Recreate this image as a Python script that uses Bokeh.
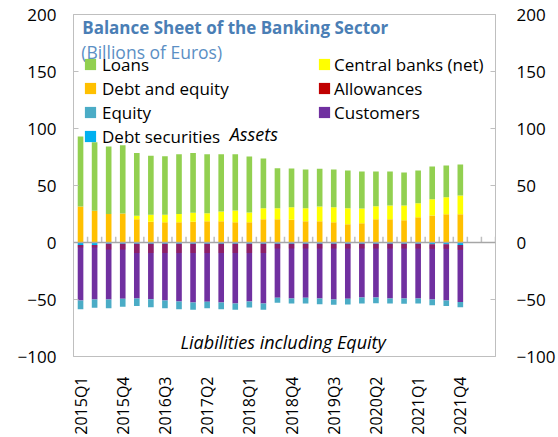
import numpy as np
from bokeh.plotting import figure
from bokeh.models import (ColumnDataSource, Legend, LegendItem, LinearAxis,
                          FixedTicker, Span, Label, Range1d)
from bokeh.embed import file_html
from bokeh.resources import INLINE

# ---------------- data (billions of euros) ----------------
quarters = ["2015Q1", "2015Q2", "2015Q3", "2015Q4", "2016Q1", "2016Q2", "2016Q3",
            "2016Q4", "2017Q1", "2017Q2", "2017Q3", "2017Q4", "2018Q1", "2018Q2",
            "2018Q3", "2018Q4", "2019Q1", "2019Q2", "2019Q3", "2019Q4", "2020Q1",
            "2020Q2", "2020Q3", "2020Q4", "2021Q1", "2021Q2", "2021Q3", "2021Q4"]

# assets (positive)
debt_and_equity = [31.6, 27.8, 25.1, 25.4, 20.5, 18.1, 17.8, 17.8, 18.1, 18.7, 18.7, 17.8, 17.8, 20.5,
                   20.5, 19.9, 18.7, 18.7, 17.8, 16.1, 16.9, 20.5, 20.5, 19.6, 22.2, 23.7, 24.8, 24.8]
central_banks = [0.0, 0.0, 0.0, 0.0, 2.9, 6.2, 6.5, 7.3, 7.9, 6.9, 8.5, 10.2, 8.5, 9.6,
                 9.6, 11.1, 11.4, 12.9, 13.2, 14.0, 12.9, 11.4, 12.0, 12.9, 12.3, 14.3, 15.0, 16.4]
loans = [61.4, 60.2, 59.1, 60.0, 55.0, 51.7, 51.4, 52.4, 52.4, 51.9, 50.3, 49.5, 49.1, 43.6,
         35.1, 33.9, 33.9, 33.0, 33.0, 33.1, 32.5, 30.4, 29.8, 28.9, 28.7, 28.7, 27.7, 27.2]

# liabilities including equity (negative)
debt_securities = [-2.3, -2.3, -1.2, -1.2, -1.2, -1.2, -1.2, -1.2, -1.2, -1.2, -1.2, -1.2, -1.2, -1.2,
                   -1.2, -1.2, -1.2, -1.2, -1.2, -1.2, -1.2, -1.2, -1.2, -1.2, -1.2, -1.5, -1.5, -2.3]
allowances = [-2.0, -2.0, -5.0, -5.0, -8.0, -8.0, -8.0, -8.0, -8.0, -8.0, -8.0, -8.0, -8.0, -8.0,
              -4.0, -4.0, -4.0, -4.0, -4.0, -4.0, -4.0, -4.0, -4.0, -4.0, -4.0, -4.0, -4.0, -4.0]
customers = [-46.6, -45.7, -43.8, -43.2, -39.9, -40.5, -41.7, -42.6, -43.4, -42.8, -43.4, -44.3, -42.6, -44.3,
             -43.3, -43.9, -43.3, -43.9, -44.8, -44.2, -43.0, -43.0, -43.9, -43.9, -43.9, -44.5, -45.4, -46.0]
equity = [-7.6, -7.3, -7.6, -7.0, -6.7, -7.0, -6.7, -6.7, -6.5, -5.6, -5.9, -5.6, -5.2, -5.6,
          -4.4, -4.4, -5.0, -5.0, -4.7, -5.0, -5.3, -5.0, -4.4, -4.7, -4.4, -5.0, -4.9, -4.4]

y_ticks = [-100, -50, 0, 50, 100, 150, 200]
label_step = 3
n_slots = 30   # axis continues two empty quarters past 2021Q4

FONT = "Open Sans"
C_LOANS, C_DE, C_EQ, C_DS = "#92d050", "#ffc000", "#4bacc6", "#00b0f0"
C_CB, C_AL, C_CU = "#ffff00", "#c00000", "#7030a0"
GRID_GREY = "#bfbfbf"

# ---------------- stacking ----------------
x = np.arange(len(quarters))
de = np.array(debt_and_equity); cb = np.array(central_banks); lo = np.array(loans)
ds = np.array(debt_securities); al = np.array(allowances)
cu = np.array(customers); eq = np.array(equity)

pos1 = de
pos2 = pos1 + cb
pos3 = pos2 + lo
neg1 = ds
neg2 = neg1 + al
neg3 = neg2 + cu
neg4 = neg3 + eq

p = figure(width=558, height=437, x_range=Range1d(-0.5, n_slots - 0.5),
           y_range=Range1d(y_ticks[0], y_ticks[-1]),
           output_backend="svg", toolbar_location=None,
           min_border_left=73, min_border_right=61, min_border_top=14, min_border_bottom=81,
           outline_line_color=GRID_GREY, outline_line_width=1)
p.xgrid.visible = False
p.ygrid.visible = False

W = 0.4
def bars(bottom, top, color, alpha=1.0):
    src = ColumnDataSource(dict(x=x, b=bottom, t=top))
    return p.vbar(x="x", bottom="b", top="t", width=W, source=src,
                  fill_color=color, fill_alpha=alpha, line_color=None)

r_de = bars(np.zeros(len(x)), pos1, C_DE)
r_cb = bars(pos1, pos2, C_CB)
r_lo = bars(pos2, pos3, C_LOANS)
r_ds = bars(np.zeros(len(x)), neg1, C_DS)
r_cu = bars(neg1, neg3, C_CU)
r_al_tint = bars(neg1, neg2, C_AL, alpha=0.35)
r_eq = bars(neg3, neg4, C_EQ)
# legend swatch for allowances (single empty row)
r_al = p.vbar(x=[np.nan], bottom=[np.nan], top=[np.nan], width=W, fill_color=C_AL, line_color=None)

# zero line with category boundary ticks
p.add_layout(Span(location=0, dimension="width", line_color="#a6a6a6", line_width=1.5))
bounds = np.arange(n_slots) + 0.5
p.segment(x0=bounds, y0=np.zeros(n_slots), x1=bounds, y1=np.full(n_slots, 5.0),
          line_color=GRID_GREY, line_width=1.5)

# x axis
xa = p.xaxis[0]
xa.ticker = FixedTicker(ticks=list(range(0, len(quarters), label_step)))
xa.major_label_overrides = {i: quarters[i] for i in range(0, len(quarters), label_step)}
xa.major_label_orientation = np.pi / 2
xa.axis_line_color = None
xa.major_tick_line_color = None
xa.minor_tick_line_color = None
xa.major_label_standoff = 14
xa.major_label_text_font = FONT
xa.major_label_text_font_size = "16px"
xa.major_label_text_color = "#000000"

# y axes
def style_y(ax, standoff):
    ax.ticker = FixedTicker(ticks=y_ticks)
    ax.axis_line_color = GRID_GREY
    ax.major_tick_line_color = GRID_GREY
    ax.major_tick_in = 5
    ax.major_tick_out = 0
    ax.minor_tick_line_color = None
    ax.major_label_standoff = standoff
    ax.major_label_text_font = FONT
    ax.major_label_text_font_size = "17px"
    ax.major_label_text_color = "#000000"

style_y(p.yaxis[0], 17)
ra = LinearAxis()
style_y(ra, 21)
p.add_layout(ra, "right")

# legends
def legend(items, loc, standoff):
    return Legend(items=items, location=loc, orientation="vertical",
                  border_line_color=None, background_fill_alpha=0,
                  padding=0, margin=0, spacing=0, label_height=24,
                  glyph_width=14, glyph_height=14, label_standoff=standoff,
                  label_text_font=FONT, label_text_font_size="17px",
                  label_text_color="#000000")

p.add_layout(legend([LegendItem(label="Loans", renderers=[r_lo]),
                     LegendItem(label="Debt and equity", renderers=[r_de]),
                     LegendItem(label="Equity", renderers=[r_eq]),
                     LegendItem(label="Debt securities", renderers=[r_ds])], (10, 208), 5))
p.add_layout(legend([LegendItem(label="Central banks (net)", renderers=[r_cb]),
                     LegendItem(label="Allowances", renderers=[r_al]),
                     LegendItem(label="Customers", renderers=[r_cu])], (244, 232), 3))

# titles and annotations
p.add_layout(Label(x=0.12, y=188.2, text="Balance Sheet of the Banking Sector",
                   text_font=FONT, text_font_size="17px", text_font_style="bold",
                   text_color="#4a7eb5", text_baseline="alphabetic"))
p.add_layout(Label(x=0.05, y=167.0, text="(Billions of Euros)",
                   text_font=FONT, text_font_size="17.5px",
                   text_color="#5b8fc4", text_baseline="alphabetic"))
p.add_layout(Label(x=10.6, y=95.5, text="Assets", text_font=FONT, text_font_size="18px",
                   text_font_style="italic", text_color="#000000", text_baseline="alphabetic"))
p.add_layout(Label(x=7.1, y=-87.4, text="Liabilities including Equity", text_font=FONT,
                   text_font_size="18px", text_font_style="italic", text_color="#000000",
                   text_baseline="alphabetic"))

open("out.html", "w").write(file_html(p, INLINE))
